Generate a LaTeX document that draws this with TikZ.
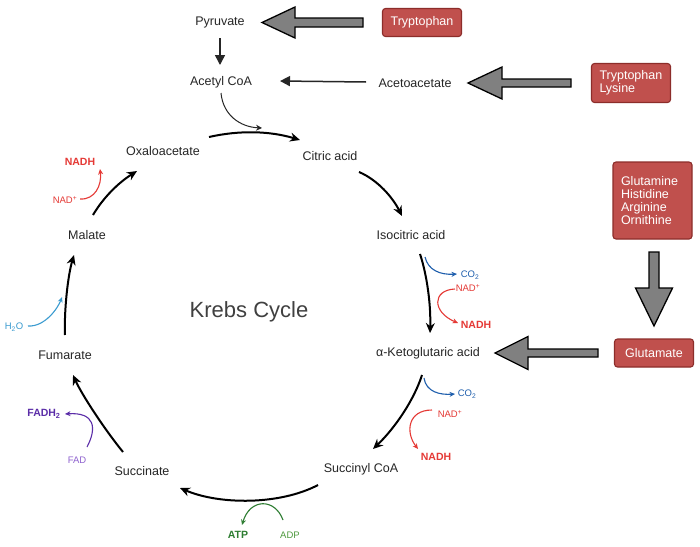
\documentclass[tikz,border=0pt]{standalone}
\usepackage{fontspec}
\setmainfont{Liberation Sans}
\usetikzlibrary{arrows.meta,calc}
\definecolor{txt}{HTML}{262626}
\definecolor{boxfill}{HTML}{C0504D}
\definecolor{boxdraw}{HTML}{8C2D2A}
\definecolor{agray}{HTML}{808080}
\definecolor{nred}{HTML}{E53935}
\definecolor{cblue}{HTML}{1F5FAD}
\definecolor{hblue}{HTML}{3A9BD0}
\definecolor{fpurp}{HTML}{5B2DA8}
\definecolor{fpurpl}{HTML}{8F62CF}
\definecolor{agreen}{HTML}{2E7D32}
\definecolor{agreenl}{HTML}{4E9A3E}
% tail, tip, head length, head half width, shaft half width
\newcommand\blockarrow[5]{%
  \coordinate (ba) at ($(#2)!#3!(#1)$);
  \draw[blockarr] (#2) -- ($(ba)!#4!90:(#2)$) -- ($(ba)!#5!90:(#2)$)
    -- ($(#1)!#5!90:(#2)$) -- ($(#1)!#5!-90:(#2)$) -- ($(ba)!#5!-90:(#2)$)
    -- ($(ba)!#4!-90:(#2)$) -- cycle;
}
\tikzset{
  lbl/.style={font=\fontsize{12.5}{14}\selectfont, text=txt, inner sep=1pt},
  srcbox/.style={draw=boxdraw, fill=boxfill, line width=1.1pt, rounded corners=3pt,
    text=white, font=\fontsize{12.5}{13}\selectfont, inner xsep=8pt, inner ysep=0pt,
    text width=63pt},
  small/.style={font=\fontsize{9.5}{11}\selectfont, inner sep=1pt},
  smallb/.style={font=\fontsize{10.5}{12}\selectfont\bfseries, inner sep=1pt},
  cyc/.style={line width=2pt, black, -{Stealth[length=10pt,width=9pt]}},
  side/.style={line width=1.1pt, -{Stealth[length=5.5pt,width=5pt]}},
  blockarr/.style={draw=black, fill=agray, line width=1.3pt, line join=miter},
  thinarr/.style={line width=1.5pt, txt, -{Triangle[length=10pt,width=10pt]}},
}
\begin{document}
\begin{tikzpicture}[x=1pt,y=-1pt]
\fill[white] (0,0) rectangle (700,546);
\useasboundingbox (0,0) rectangle (700,546);

% metabolites
\node[lbl] (pyr)  at (220,22.5) {Pyruvate};
\node[lbl] (acoa) at (221,82) {Acetyl CoA};
\node[lbl] (acet) at (415,83) {Acetoacetate};
\node[lbl] (oxa)  at (163,151) {Oxaloacetate};
\node[lbl] (cit)  at (330,156) {Citric acid};
\node[lbl] (iso)  at (411,235) {Isocitric acid};
\node[lbl] (akg)  at (428,353) {α-Ketoglutaric acid};
\node[lbl] (sca)  at (361,469) {Succinyl CoA};
\node[lbl] (succ) at (142,471) {Succinate};
\node[lbl] (fum)  at (65,355) {Fumarate};
\node[lbl] (mal)  at (87,235) {Malate};
\node[font=\fontsize{22}{26}\selectfont, text=black!75] (krebs) at (249,312) {Krebs Cycle};

% amino acid boxes
\node[srcbox, align=center, minimum height=28pt] (tryp) at (422,22.5) {Tryptophan};
\node[srcbox, align=left, minimum height=39pt] (trlys) at (631,83) {Tryptophan\\Lysine};
\node[srcbox, align=left, minimum height=77pt] (gln) at (652.5,200.5) {Glutamine\\Histidine\\Arginine\\Ornithine};
\node[srcbox, align=center, minimum height=28pt] (glu) at (654,353) {Glutamate};

% side labels
\node[small, text=cblue] (co2a) at (470,275) {CO\textsubscript{2}};
\node[small, text=nred] (nadpa) at (468,288) {NAD\textsuperscript{+}};
\node[smallb, text=nred] (nadha) at (476,325) {NADH};
\node[small, text=cblue] (co2b) at (467,394) {CO\textsubscript{2}};
\node[small, text=nred] (nadpb) at (450,414) {NAD\textsuperscript{+}};
\node[smallb, text=nred] (nadhb) at (436,457) {NADH};
\node[smallb, text=agreen] (atp) at (238,535) {ATP};
\node[small, text=agreenl] (adp) at (290,535) {ADP};
\node[small, text=fpurpl] (fad) at (77,460) {FAD};
\node[smallb, text=fpurp] (fadh) at (44,414) {FADH\textsubscript{2}};
\node[small, text=hblue] (h2o) at (14,327) {H\textsubscript{2}O};
\node[small, text=nred] (nadpc) at (65,200) {NAD\textsuperscript{+}};
\node[smallb, text=nred] (nadhc) at (80,162) {NADH};

% block arrows
\coordinate (t1) at ($(tryp)+(-59,0)$);
\coordinate (h1) at ($(pyr)+(42,0)$);
\blockarrow{t1}{h1}{33pt}{15.5pt}{4.5pt}
\coordinate (t2) at ($(trlys)+(-60,0)$);
\coordinate (h2) at ($(acet)+(53,0)$);
\blockarrow{t2}{h2}{34pt}{16pt}{4pt}
\coordinate (t3) at ($(glu)+(-56,0)$);
\coordinate (h3) at ($(akg)+(67,0)$);
\blockarrow{t3}{h3}{33pt}{16.5pt}{4pt}
\coordinate (t4) at ($(gln)+(1.5,51.5)$);
\coordinate (h4) at ($(glu)+(0,-27)$);
\blockarrow{t4}{h4}{38pt}{18.5pt}{5pt}

% entry arrows
\draw[thinarr] ($(pyr)+(0,15.5)$) -- ($(acoa)+(-1,-17)$);
\draw[thinarr] ($(acet)+(-49,-1)$) -- ($(acoa)+(59,-1)$);
\draw[line width=1pt, txt, -{Stealth[length=6pt,width=6pt]}]
  ($(acoa)+(0,11)$) .. controls +(2,22) and +(-22,-1) .. ($(cit)+(-68,-28)$);

% cycle
\draw[cyc] ($(oxa)+(46,-14)$) .. controls +(31,-7) and +(-30,-9) .. ($(cit)+(-30,-16)$);
\draw[cyc] ($(cit)+(29,16)$) .. controls +(19,8) and +(-9,-18) .. ($(iso)+(-9,-19)$);
\draw[cyc] ($(iso)+(9,19)$) .. controls +(7,21) and +(1,-28) .. ($(akg)+(2,-20)$);
\draw[cyc] ($(akg)+(-6,22)$) .. controls +(-8,25) and +(22,-21) .. ($(sca)+(12,-20)$);
\draw[cyc] ($(sca)+(-43,16)$) .. controls +(-38,20) and +(40,17) .. ($(succ)+(38,17)$);
\draw[cyc] ($(succ)+(-19,-19)$) .. controls +(-18,-22) and +(9,20) .. ($(fum)+(8,20)$);
\draw[cyc] ($(fum)+(0,-20)$) .. controls +(-1,-25) and +(-6,20) .. ($(mal)+(-13,20)$);
\draw[cyc] ($(mal)+(6,-20)$) .. controls +(10,-17) and +(-19,12) .. ($(oxa)+(-26,20)$);

% side reactions
\draw[side, cblue] ($(iso)+(14,22)$) .. controls +(3,13) and +(-17,1) .. ($(co2a)+(-13,-1)$);
\draw[side, nred] ($(nadpa)+(-13,1)$) .. controls +(-23,1) and +(-26,-11) .. ($(nadha)+(-18,-2)$);
\draw[side, cblue] ($(akg)+(-4,25)$) .. controls +(2,14) and +(-15,1) .. ($(co2b)+(-12,0)$);
\draw[side, nred] ($(nadpb)+(-18,-4)$) .. controls +(-24,0) and +(-13,-17) .. ($(nadhb)+(-18,-8)$);
\draw[side, agreen] ($(adp)+(-7,-15)$) .. controls +(-8,-22) and +(8,-27) .. ($(atp)+(4,-10)$);
\draw[side, fpurp] ($(fad)+(10,-13)$) .. controls +(10,-19) and +(30,-2) .. ($(fadh)+(21,0)$);
\draw[side, hblue] ($(h2o)+(14,-1)$) .. controls +(17,1) and +(-4,11) .. ($(h2o)+(48,-30)$);
\draw[side, nred] ($(nadpc)+(15,-1)$) .. controls +(15,1) and +(2,16) .. ($(nadhc)+(20,7)$);
\end{tikzpicture}
\end{document}
